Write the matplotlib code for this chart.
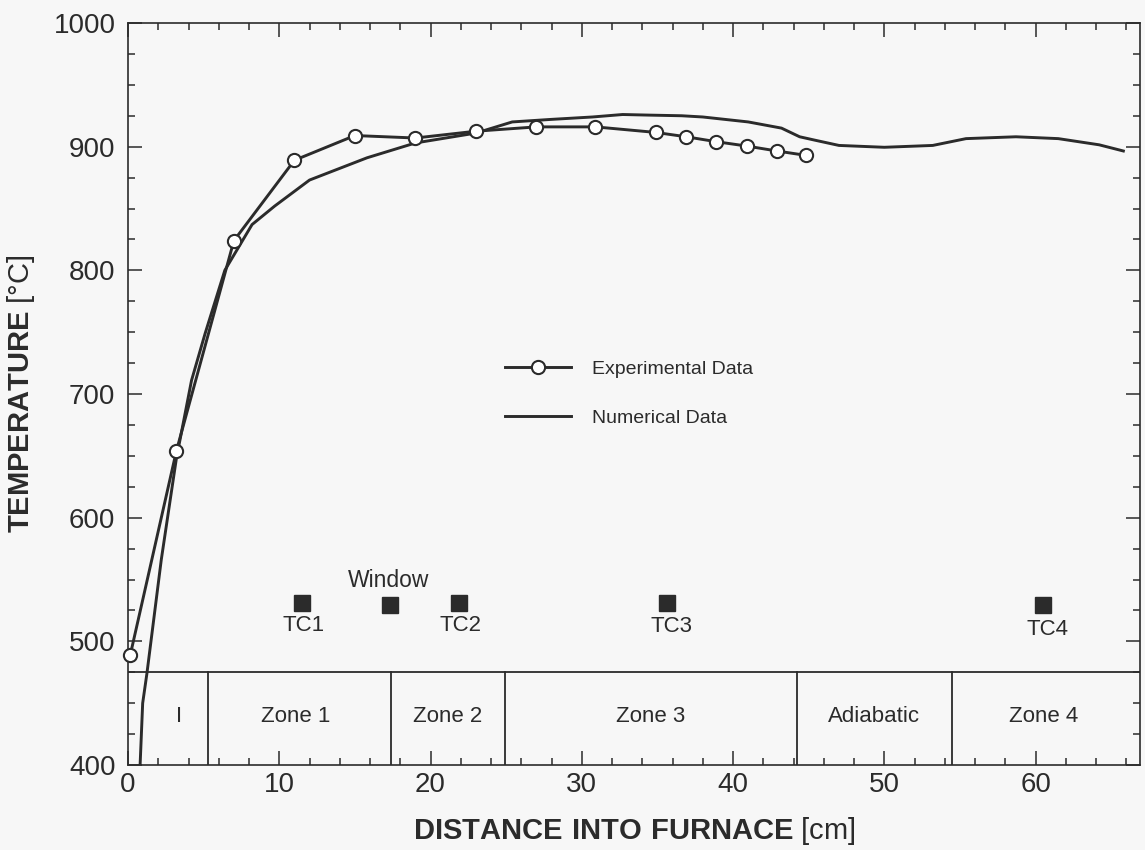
import matplotlib
matplotlib.use("Agg")
import matplotlib.pyplot as plt
from matplotlib.ticker import MultipleLocator

plt.rcParams['font.family'] = ['Liberation Sans', 'DejaVu Sans']
plt.rcParams['mathtext.fontset'] = 'custom'
plt.rcParams['mathtext.rm'] = 'Liberation Sans'
plt.rcParams['mathtext.bf'] = 'Liberation Sans:bold'

# ---- data ----
exp_x = [0.15, 3.2, 7.0, 11.0, 15.0, 19.0, 23.0, 27.0, 30.9, 34.9, 36.9, 38.9, 40.9, 42.9, 44.8]
exp_y = [489, 654, 824, 889, 909, 907, 912.5, 916, 916, 911.5, 908, 904, 900.5, 896.5, 893]

num_x = [0.8, 0.97, 1.25, 2.2, 3.2, 4.2, 5.1, 6.4, 8.2, 9.7, 12.0, 15.8, 19.0, 23.0, 25.4,
         27.9, 30.7, 32.7, 34.5, 36.6, 38.0, 41.0, 43.2, 44.4, 45.5, 47.0, 50.0, 53.2,
         55.4, 58.7, 61.5, 64.2, 65.8]
num_y = [400, 450, 474, 566, 648, 711, 749, 800, 837, 852, 873, 891, 903, 911, 920,
         922, 924, 926, 925.5, 925, 924, 920, 915, 908, 905, 901, 899.5, 901,
         906.5, 908, 906.5, 901.5, 896.5]

zone_bounds = [5.3, 17.4, 24.9, 44.2, 54.5]
zone_top = 475
zone_labels = ['I', 'Zone 1', 'Zone 2', 'Zone 3', 'Adiabatic', 'Zone 4']
zone_label_x = [3.37, 11.1, 21.1, 34.55, 49.3, 60.5]
zone_label_y = 439

tc_x = [11.53, 17.34, 21.85, 35.6, 60.5]
tc_y = [530.7, 529.4, 530.7, 530.6, 529.7]
tc_names = ['TC1', 'Window', 'TC2', 'TC3', 'TC4']
tc_label_x = [11.6, 17.2, 22.0, 35.9, 60.8]
tc_label_y = [513, 549, 513, 511.7, 509.4]

xticks = [0, 10, 20, 30, 40, 50, 60]
yticks = [400, 500, 600, 700, 800, 900, 1000]

# ---- style ----
bg = '#f7f7f7'
ink = '#2b2b2b'

fig = plt.figure(figsize=(11.45, 8.5), dpi=100, facecolor=bg)
ax = fig.add_axes([128/1145, 1-765/850, (1140-128)/1145, (765-23)/850], facecolor=bg)

ax.plot(num_x, num_y, color=ink, lw=2.1, zorder=3, label='Numerical Data')
ax.plot(exp_x, exp_y, color=ink, lw=2.1, marker='o', ms=9.5, mfc='white', mec=ink,
        mew=1.5, zorder=4, clip_on=False, label='Experimental Data')

# zone box
ax.axhline(zone_top, color=ink, lw=1.3, zorder=2)
for b in zone_bounds:
    ax.plot([b, b], [400, zone_top], color=ink, lw=1.3, zorder=2)
for lab, lx in zip(zone_labels, zone_label_x):
    ax.text(lx, zone_label_y, lab, ha='center', va='center', fontsize=16, color=ink)

# thermocouples / window
ax.plot(tc_x, tc_y, ls='none', marker='s', ms=11, color=ink, zorder=3)
for name, lx, ly in zip(tc_names, tc_label_x, tc_label_y):
    ax.text(lx, ly, name, ha='center', va='center',
            fontsize=16.5 if name == 'Window' else 16, color=ink)

ax.set_xlim(0, 66.9)
ax.set_ylim(400, 1000)
ax.set_xticks(xticks)
ax.set_yticks(yticks)
ax.xaxis.set_minor_locator(MultipleLocator(2))
ax.yaxis.set_minor_locator(MultipleLocator(25))
ax.tick_params(which='both', direction='in', top=True, right=True, color=ink,
               width=1.1, labelcolor=ink, labelsize=20)
ax.tick_params(which='major', length=10)
ax.tick_params(which='minor', length=5)
ax.tick_params(axis='y', which='major', pad=9)
ax.tick_params(axis='x', which='major', pad=5)
for s in ax.spines.values():
    s.set_color(ink)
    s.set_linewidth(1.2)

ax.set_xlabel(r'$\mathbf{DISTANCE\ INTO\ FURNACE}$ [cm]', fontsize=21, color=ink, labelpad=12)
ax.set_ylabel(r'$\mathbf{TEMPERATURE}$ [°C]', fontsize=21, color=ink, labelpad=12)

h, l = ax.get_legend_handles_labels()
leg = ax.legend(h[::-1], l[::-1], loc='upper left', bbox_to_anchor=((505-128)/1012, 1-(360-23)/742),
                frameon=False, fontsize=14, handlelength=3.4, handletextpad=1.1,
                labelspacing=1.62, numpoints=1, borderpad=0, borderaxespad=0)
for t in leg.get_texts():
    t.set_color(ink)

fig.savefig('out.png', dpi=100, facecolor=bg)
